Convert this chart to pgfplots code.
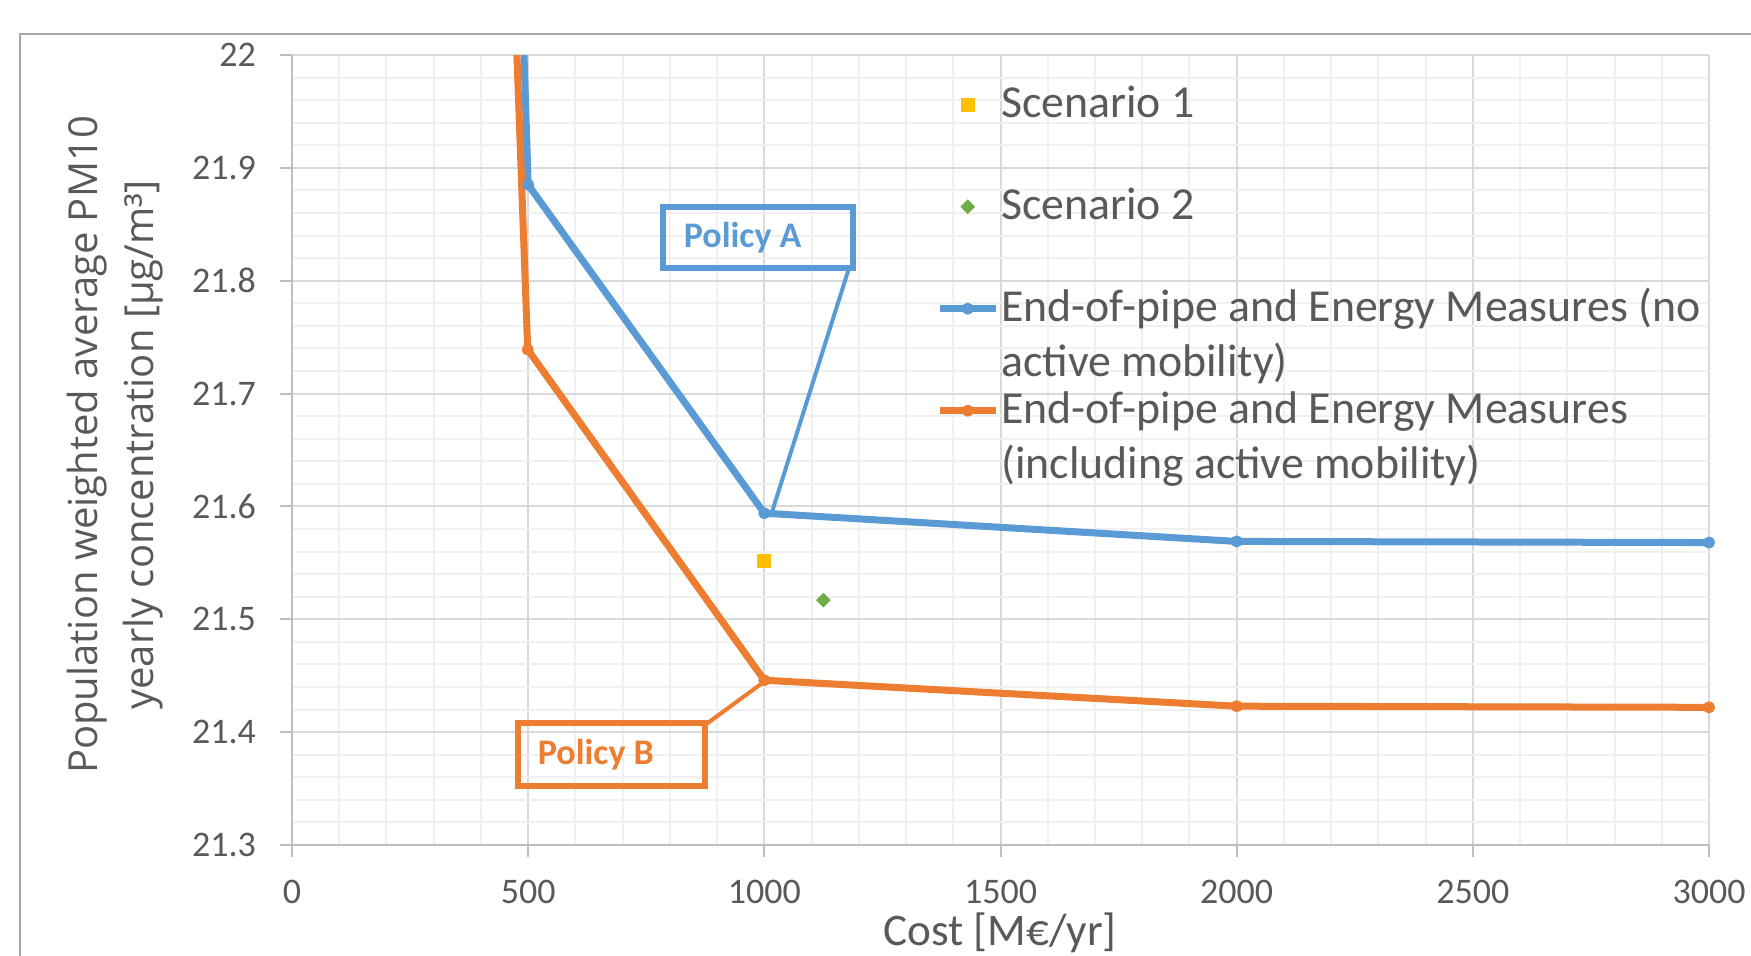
\documentclass[border=0pt]{standalone}
\usepackage{fontspec}
\setmainfont{Carlito}
\newfontfamily\ysfont{Open Sans}
\usepackage{pgfplots}
\pgfplotsset{compat=1.18}
\definecolor{cblue}{HTML}{5B9BD5}
\definecolor{corange}{HTML}{ED7D31}
\definecolor{cyellow}{HTML}{FFC000}
\definecolor{cgreen}{HTML}{70AD47}
\definecolor{txt}{HTML}{595959}
\definecolor{majgrid}{HTML}{D9D9D9}
\definecolor{mingrid}{HTML}{F0F0F0}
\definecolor{axisgray}{HTML}{BFBFBF}
\definecolor{bordergray}{HTML}{A6A6A6}
\begin{document}
\begin{tikzpicture}
\path[use as bounding box] (0,0) rectangle (437.75pt,238.75pt);
\clip (0,0) rectangle (437.75pt,238.75pt);
\begin{axis}[
  at={(73pt,27.5pt)}, anchor=south west,
  scale only axis, width=354.25pt, height=197.5pt,
  xmin=0, xmax=3000, ymin=21.3, ymax=22,
  xtick={0,500,1000,1500,2000,2500,3000},
  xticklabels={0,500,1000,1500,2000,2500,3000},
  ytick={21.3,21.4,21.5,21.6,21.7,21.8,21.9,22},
  yticklabels={21.3,21.4,21.5,21.6,21.7,21.8,21.9,22},
  minor x tick num=4, minor y tick num=4,
  grid=both,
  major grid style={majgrid, line width=0.5pt},
  minor grid style={mingrid, line width=0.5pt},
  axis lines*=left,
  axis line style={axisgray, line width=0.5pt, -},
  tick align=outside, major tick length=3pt, minor tick length=0pt,
  tick style={axisgray, line width=0.5pt},
  ticklabel style={font=\fontsize{9}{11}\selectfont, text=txt},
  xticklabel style={yshift=-2.25pt},
  yticklabel style={xshift=-2.5pt},
  legend image code/.code={\draw[mark repeat=2,mark phase=2,#1] plot coordinates {(0pt,3.3pt)(7pt,3.3pt)(14pt,3.3pt)};},
  legend style={at={(0.4541,0.970)}, anchor=north west, draw=none, fill=none,
    inner sep=0pt, column sep=0.5pt, font=\fontsize{11.45}{13.75}\selectfont,
    cells={anchor=base west},
    nodes={inner sep=0pt, text=txt, text height=9.6pt, text depth=15.9pt}},
]
\addplot[only marks, mark=square*, mark size=1.55pt, mark options={line width=0.4pt}, cyellow] coordinates {(1000,21.552)};
\addlegendentry{Scenario 1}
\addplot[only marks, mark=square*, mark size=1.1pt, mark options={rotate=45, line width=0.4pt}, cgreen] coordinates {(1125,21.517)};
\addlegendentry{Scenario 2}
\addplot[cblue, line width=1.75pt, line join=round, mark=*, mark size=1.25pt, mark options={line width=0.5pt}]
  coordinates {(483.5,22.1) (500,21.885) (1000,21.594) (2000,21.569) (3000,21.568)};
\addlegendentry{\parbox[t]{200pt}{End-of-pipe and Energy Measures (no\\active mobility)}}
\addplot[corange, line width=1.75pt, line join=round, mark=*, mark size=1.25pt, mark options={line width=0.5pt}]
  coordinates {(463,22.15) (499,21.739) (1000,21.446) (2000,21.423) (3000,21.422)};
\addlegendentry{\parbox[t]{200pt}{End-of-pipe and Energy Measures\\(including active mobility)}}
\end{axis}
\begin{scope}[x=0.25pt, y=-0.25pt, shift={(0pt,238.75pt)}]
\draw[bordergray, line width=0.5pt] (20,34) rectangle (1800,1000);
\draw[cblue, line width=1.35pt] (663,207) rectangle (853,268);
\node[anchor=west, inner sep=0pt, font=\fontsize{9}{11}\selectfont\bfseries, text=cblue] at (683,238) {Policy A};
\draw[cblue, line width=1pt] (849,268) -- (772,512);
\draw[corange, line width=1.35pt] (518,723) rectangle (705,786);
\node[anchor=west, inner sep=0pt, font=\fontsize{9}{11}\selectfont\bfseries, text=corange] at (537,755) {Policy B};
\draw[corange, line width=1pt] (705,725) -- (765,681);
\node[rotate=90, align=center, inner sep=0pt, font=\ysfont\fontsize{10}{14}\selectfont, text=txt] at (115,445) {Population weighted average PM10\\yearly concentration [µg/m³]};
\node[anchor=base, inner sep=0pt, font=\fontsize{11.3}{13}\selectfont, text=txt] at (1000,945) {Cost [M€/yr]};
\end{scope}
\end{tikzpicture}
\end{document}
